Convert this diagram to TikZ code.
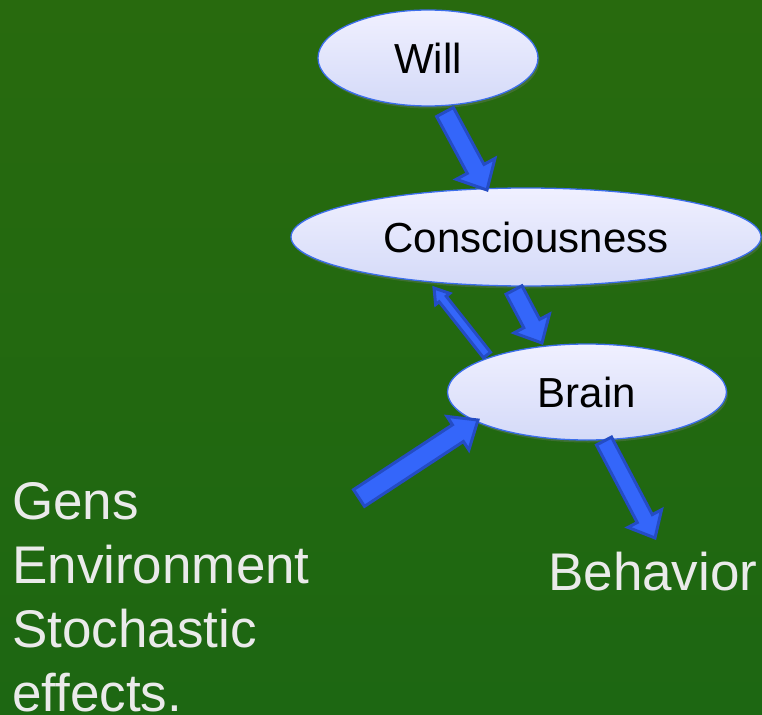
\documentclass[tikz,border=0pt]{standalone}
\usepackage{fontspec}
\setmainfont{Liberation Sans}
\usetikzlibrary{shapes.geometric,calc,shadows}

\definecolor{bgtop}{RGB}{40,106,14}
\definecolor{bgbot}{RGB}{29,103,18}
\definecolor{ovaltop}{RGB}{240,240,255}
\definecolor{ovalbot}{RGB}{212,218,248}
\definecolor{ovalline}{RGB}{60,110,235}
\definecolor{arrowfill}{RGB}{52,102,250}
\definecolor{arrowline}{RGB}{36,76,196}
\definecolor{labeltext}{RGB}{234,234,234}

\tikzset{
  oval/.style={ellipse, draw=ovalline, line width=1.3pt, inner sep=0pt,
    top color=ovaltop, bottom color=ovalbot,
    drop shadow={opacity=0.3, shadow xshift=1.5pt, shadow yshift=-2.5pt},
    font=\fontsize{42}{48}\selectfont, text=black},
  blockarrow/.style={fill=arrowfill, draw=arrowline, line width=3pt, line join=miter},
  sidelabel/.style={inner sep=0pt, text=labeltext, align=left,
    font=\fontsize{53}{64}\selectfont},
}

% Block arrow from tail #1 to tip #2: half shaft width #3, half head width #4, head length #5
\newcommand\blockarrowpath[5]{%
  \coordinate (hb) at ($(#2)!#5!(#1)$);
  \draw[blockarrow] ($(#1)!#3!90:(#2)$) -- ($(hb)!#3!90:(#2)$) -- ($(hb)!#4!90:(#2)$)
    -- (#2) -- ($(hb)!#4!-90:(#2)$) -- ($(hb)!#3!-90:(#2)$) -- ($(#1)!#3!-90:(#2)$) -- cycle;
}

\begin{document}
\begin{tikzpicture}[x=1pt,y=-1pt]
  % background
  \shade[top color=bgtop, bottom color=bgbot] (0,0) rectangle (762,714);
  \useasboundingbox (0,0) rectangle (762,714);

  % ovals
  \node[oval, minimum width=220pt, minimum height=96pt] (will) at (428,58) {Will};
  \node[oval, minimum width=470pt, minimum height=98pt] (cons) at (526,237) {Consciousness};
  \node[oval, minimum width=279pt, minimum height=96pt] (brain) at (587,392) {Brain};

  % free texts
  \node[sidelabel, anchor=north west] (causes) at (12,482) {Gens\\Environment\\Stochastic\\effects.};
  \node[sidelabel, anchor=base west] (behav) at (548,590) {Behavior};

  % arrow end points
  \coordinate (a1t) at (445,112);
  \coordinate (a1h) at (487,190);
  \coordinate (a2t) at (514,290);
  \coordinate (a2h) at (542,343);
  \coordinate (a3t) at (487,355);
  \coordinate (a3h) at (434,288);
  \coordinate (a4t) at (359,498);
  \coordinate (a4h) at (478,420);
  \coordinate (a5t) at (604,441);
  \coordinate (a5h) at (655,538);

  % arrows
  \blockarrowpath{a1t}{a1h}{9.5pt}{22pt}{24pt}
  \blockarrowpath{a2t}{a2h}{9pt}{20pt}{22pt}
  \blockarrowpath{a3t}{a3h}{4.5pt}{9pt}{14pt}
  \blockarrowpath{a4t}{a4h}{10pt}{20pt}{24pt}
  \blockarrowpath{a5t}{a5h}{8.5pt}{19pt}{22pt}
\end{tikzpicture}
\end{document}
